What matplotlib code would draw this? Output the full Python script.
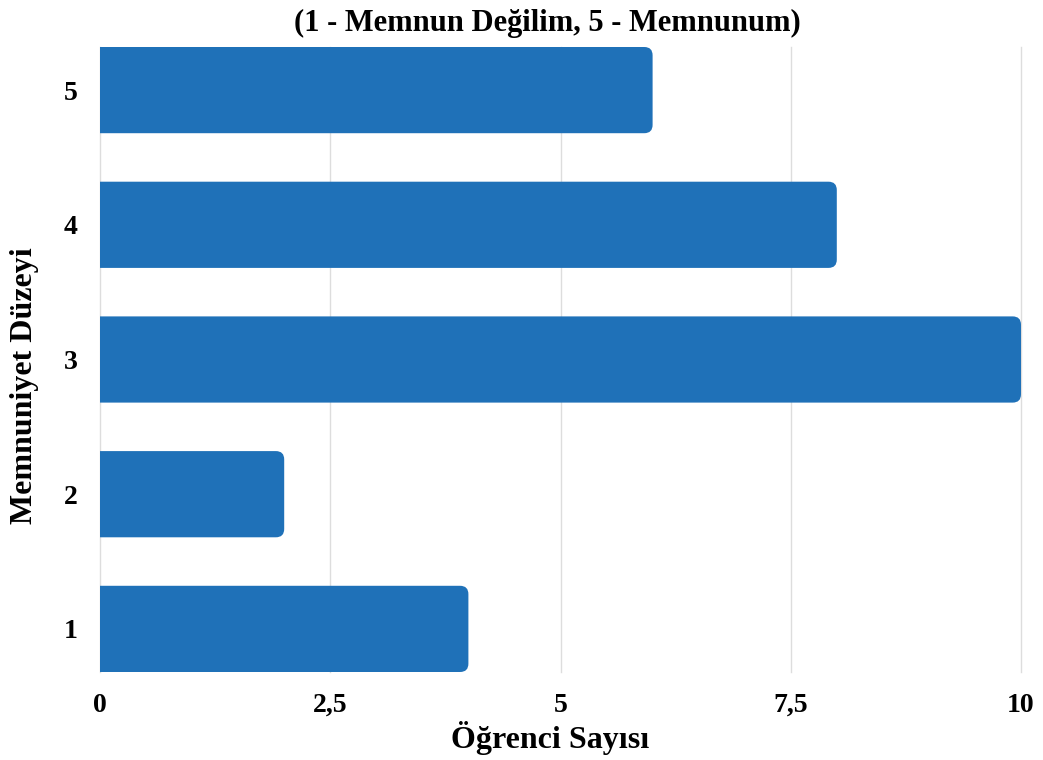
import matplotlib.pyplot as plt
from matplotlib.patches import FancyBboxPatch

# Memnuniyet düzeyleri ve öğrenci sayıları
levels = ['1', '2', '3', '4', '5']
counts = [4, 2, 10, 8, 6]
xticks = [0, 2.5, 5, 7.5, 10]
xtick_labels = ['0', '2,5', '5', '7,5', '10']

bar_color = '#1f71b8'
plt.rcParams['font.family'] = ['Liberation Serif', 'DejaVu Serif']

fig = plt.figure(figsize=(10.43, 7.6), dpi=100)
ax = fig.add_axes([100 / 1043, 1 - 672 / 760, 921 / 1043, 625 / 760])

bar_h = 0.64
bars = ax.barh(range(len(levels)), counts, height=bar_h, color=bar_color)

# rounded right corners, left side hidden behind the axes edge
ax_w, ax_h = 921, 625
x_px = ax_w / 10.0
y_px = ax_h / (len(levels) - 1 + bar_h)
for b in bars:
    x0, y0 = b.get_x(), b.get_y()
    w, h = b.get_width(), b.get_height()
    b.remove()
    patch = FancyBboxPatch((x0 - 0.3, y0), w + 0.3, h,
                           boxstyle='round,pad=0,rounding_size=0.09',
                           mutation_aspect=x_px / y_px,
                           facecolor=bar_color, edgecolor='none', zorder=2)
    ax.add_patch(patch)

ax.set_xlim(0, 10)
ax.set_ylim(-bar_h / 2, len(levels) - 1 + bar_h / 2)
ax.set_xticks(xticks)
ax.set_xticklabels(xtick_labels)
ax.set_yticks(range(len(levels)))
ax.set_yticklabels(levels)

for s in ax.spines.values():
    s.set_visible(False)
ax.tick_params(length=0, labelsize=20)
ax.tick_params(axis='x', pad=15)
ax.tick_params(axis='y', pad=16)
for lab in ax.get_xticklabels() + ax.get_yticklabels():
    lab.set_fontweight('bold')

ax.xaxis.grid(True, color='#dddddd', linewidth=1)
for gl in ax.get_xgridlines():
    gl.set_clip_on(False)
ax.set_axisbelow(True)

ax.set_xlabel('Öğrenci Sayısı', fontsize=23, fontweight='bold', va='center')
ax.xaxis.set_label_coords(0.4886, -0.105)
ax.set_ylabel('Memnuniyet Düzeyi', fontsize=23, fontweight='bold', va='center')
ax.yaxis.set_label_coords(-0.082, 0.459)
fig.text(547 / 1043, 1 - 23 / 760, '(1 - Memnun Değilim, 5 - Memnunum)',
         ha='center', va='center', fontsize=22, fontweight='bold')

fig.savefig('out.png', dpi=100)
